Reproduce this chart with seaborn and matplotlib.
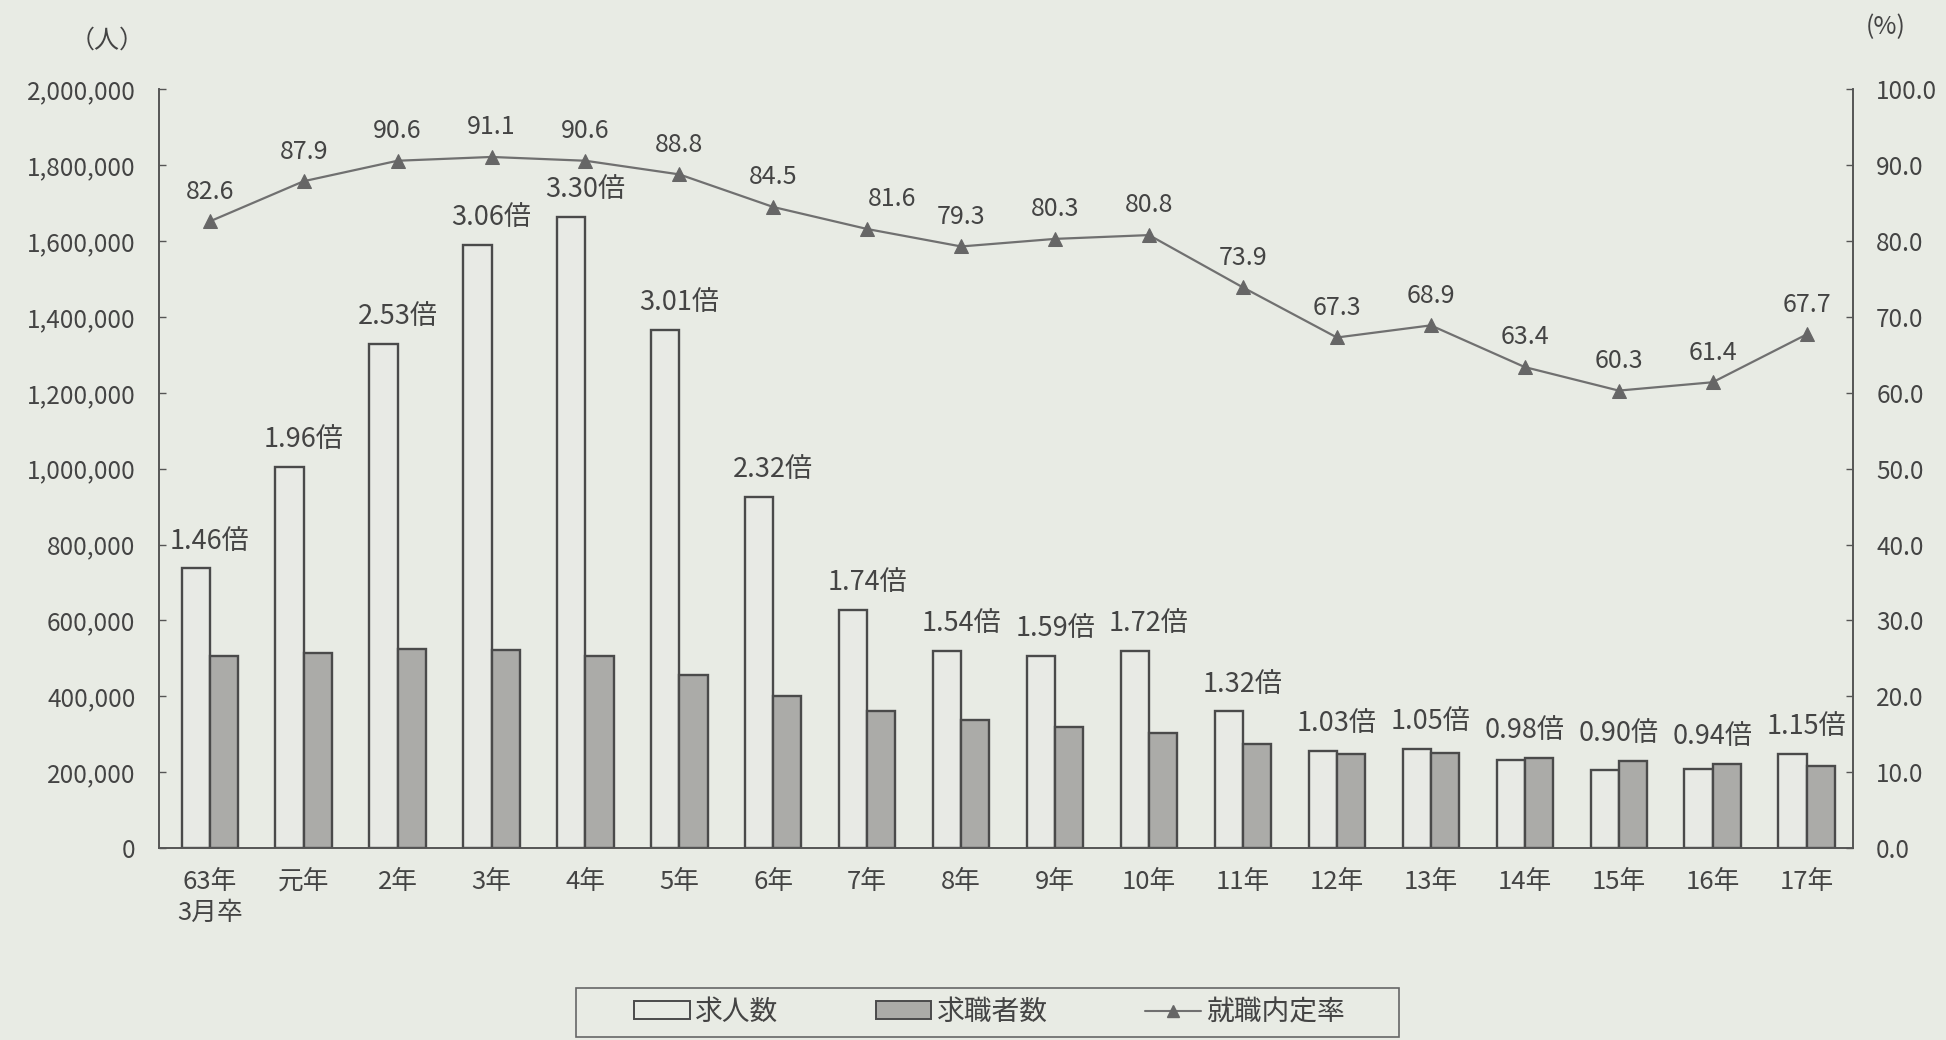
import matplotlib
matplotlib.use("Agg")
import matplotlib.pyplot as plt
import seaborn as sns
import numpy as np
import pandas as pd
from matplotlib.patches import Patch, Rectangle
from matplotlib.lines import Line2D
from matplotlib.ticker import FuncFormatter, MultipleLocator, FixedLocator

# ---------------- data ----------------
categories = ["63年\n3月卒", "元年", "2年", "3年", "4年", "5年", "6年", "7年", "8年",
              "9年", "10年", "11年", "12年", "13年", "14年", "15年", "16年", "17年"]
job_offers = [737000, 1005000, 1328000, 1591000, 1663000, 1365000, 926000, 628000, 520000,
              507000, 520000, 360000, 255000, 262000, 232000, 206000, 209000, 249000]
job_seekers = [505000, 513000, 526000, 521000, 505000, 455000, 400000, 361000, 338000,
               319000, 303000, 273000, 248000, 250000, 237000, 229000, 222000, 217000]
ratio_labels = ["1.46倍", "1.96倍", "2.53倍", "3.06倍", "3.30倍", "3.01倍", "2.32倍", "1.74倍",
                "1.54倍", "1.59倍", "1.72倍", "1.32倍", "1.03倍", "1.05倍", "0.98倍", "0.90倍",
                "0.94倍", "1.15倍"]
placement_rate = [82.6, 87.9, 90.6, 91.1, 90.6, 88.8, 84.5, 81.6, 79.3, 80.3, 80.8,
                  73.9, 67.3, 68.9, 63.4, 60.3, 61.4, 67.7]
series_names = ["求人数", "求職者数", "就職内定率"]

# ---------------- style ----------------
BG = "#e8ebe4"
EDGE = "#4a4a4a"
GRAYBAR = "#ababa7"
TXT = "#444444"
LINEC = "#707070"

sns.set_theme(style="white")
plt.rcParams["font.family"] = ["Noto Sans CJK JP", "DejaVu Sans"]

fig = plt.figure(figsize=(19.46, 10.40), dpi=100, facecolor=BG)
ax = fig.add_axes([0.0817, 0.1846, 0.952 - 0.0817, 0.914 - 0.1846])
ax.set_facecolor(BG)

df = pd.DataFrame({
    "cat": categories * 2,
    "value": job_offers + job_seekers,
    "series": [series_names[0]] * len(categories) + [series_names[1]] * len(categories),
})
sns.barplot(data=df, x="cat", y="value", hue="series", order=categories,
            hue_order=series_names[:2],
            palette={series_names[0]: BG, series_names[1]: GRAYBAR},
            width=0.6, gap=0, edgecolor=EDGE, linewidth=1.7, legend=False, ax=ax)

ax.set_ylim(0, 2000000)
ax.set_xlim(-0.54, len(categories) - 0.51)
ax.yaxis.set_major_locator(MultipleLocator(200000))
ax.yaxis.set_major_formatter(FuncFormatter(lambda v, p: f"{int(v):,}"))
ax.set_xlabel("")
ax.set_ylabel("")
ax.spines["top"].set_visible(False)
for s in ["left", "right", "bottom"]:
    ax.spines[s].set_color("#555555")
    ax.spines[s].set_linewidth(1.2)

ax.tick_params(axis="y", direction="in", length=5, width=1, colors="#555555",
               labelsize=17.5, labelcolor=TXT, pad=17)
ax.tick_params(axis="x", length=0, labelsize=18.5, labelcolor=TXT, pad=15)
ax.xaxis.set_minor_locator(FixedLocator(np.arange(len(categories) - 1) + 0.5))
ax.tick_params(axis="x", which="minor", direction="in", length=5, width=1, colors="#555555")
for lab in ax.get_xticklabels():
    lab.set_linespacing(1.25)
    lab.set_verticalalignment("top")

# ratio annotations above bars
for i, lab in enumerate(ratio_labels):
    top = max(job_offers[i], job_seekers[i])
    ax.annotate(lab, (i, top), xytext=(0, 10), textcoords="offset points",
                ha="center", va="bottom", fontsize=19.5, color=TXT)

# secondary axis: placement rate
ax2 = ax.twinx()
pos = np.arange(len(categories))
sns.lineplot(x=pos, y=placement_rate, ax=ax2, color=LINEC, linewidth=1.6,
             marker="^", markersize=10, markeredgecolor="#666666", markerfacecolor="#666666")
ax2.set_ylim(0, 100)
ax2.yaxis.set_major_locator(MultipleLocator(10))
ax2.yaxis.set_major_formatter(FuncFormatter(lambda v, p: f"{v:.1f}"))
ax2.tick_params(axis="y", direction="in", length=5, width=1, colors="#555555",
                labelsize=17.5, labelcolor=TXT, pad=17)
ax2.spines["top"].set_visible(False)
for s in ["left", "right", "bottom"]:
    ax2.spines[s].set_color("#555555")
    ax2.spines[s].set_linewidth(1.2)
ax2.grid(False)
ax.grid(False)

rate_dx = {7: 18}
for i, v in enumerate(placement_rate):
    ax2.annotate(f"{v:.1f}", (i, v), xytext=(rate_dx.get(i, 0), 12), textcoords="offset points",
                 ha="center", va="bottom", fontsize=18, color=TXT)

# unit labels
fig.text(107 / 1946, 1 - 41 / 1040, "（人）", ha="center", va="center", fontsize=18, color=TXT)
fig.text(1886 / 1946, 1 - 27 / 1040, "(%)", ha="center", va="center", fontsize=18, color=TXT)

# legend
handles = [
    Patch(facecolor=BG, edgecolor=EDGE, linewidth=1.4),
    Patch(facecolor=GRAYBAR, edgecolor=EDGE, linewidth=1.4),
    Line2D([0], [0], color=LINEC, linewidth=1.5, marker="^", markersize=8,
           markerfacecolor="#666666", markeredgecolor="#666666"),
]
leg = fig.legend(handles, series_names, loc="center", bbox_to_anchor=(0.5085, 1 - 1012 / 1040),
                 ncol=3, frameon=False, fontsize=20, handlelength=2.0,
                 handleheight=0.6, columnspacing=3.5, handletextpad=0.2,
                 borderpad=0.45, labelcolor=TXT)
# legend frame box
fig.patches.append(Rectangle((576 / 1946, 1 - 1037 / 1040), (1399 - 576) / 1946, 49 / 1040,
                             transform=fig.transFigure, facecolor="none",
                             edgecolor="#666666", linewidth=1.2, zorder=5))

fig.savefig("out.png", dpi=100, facecolor=BG)
